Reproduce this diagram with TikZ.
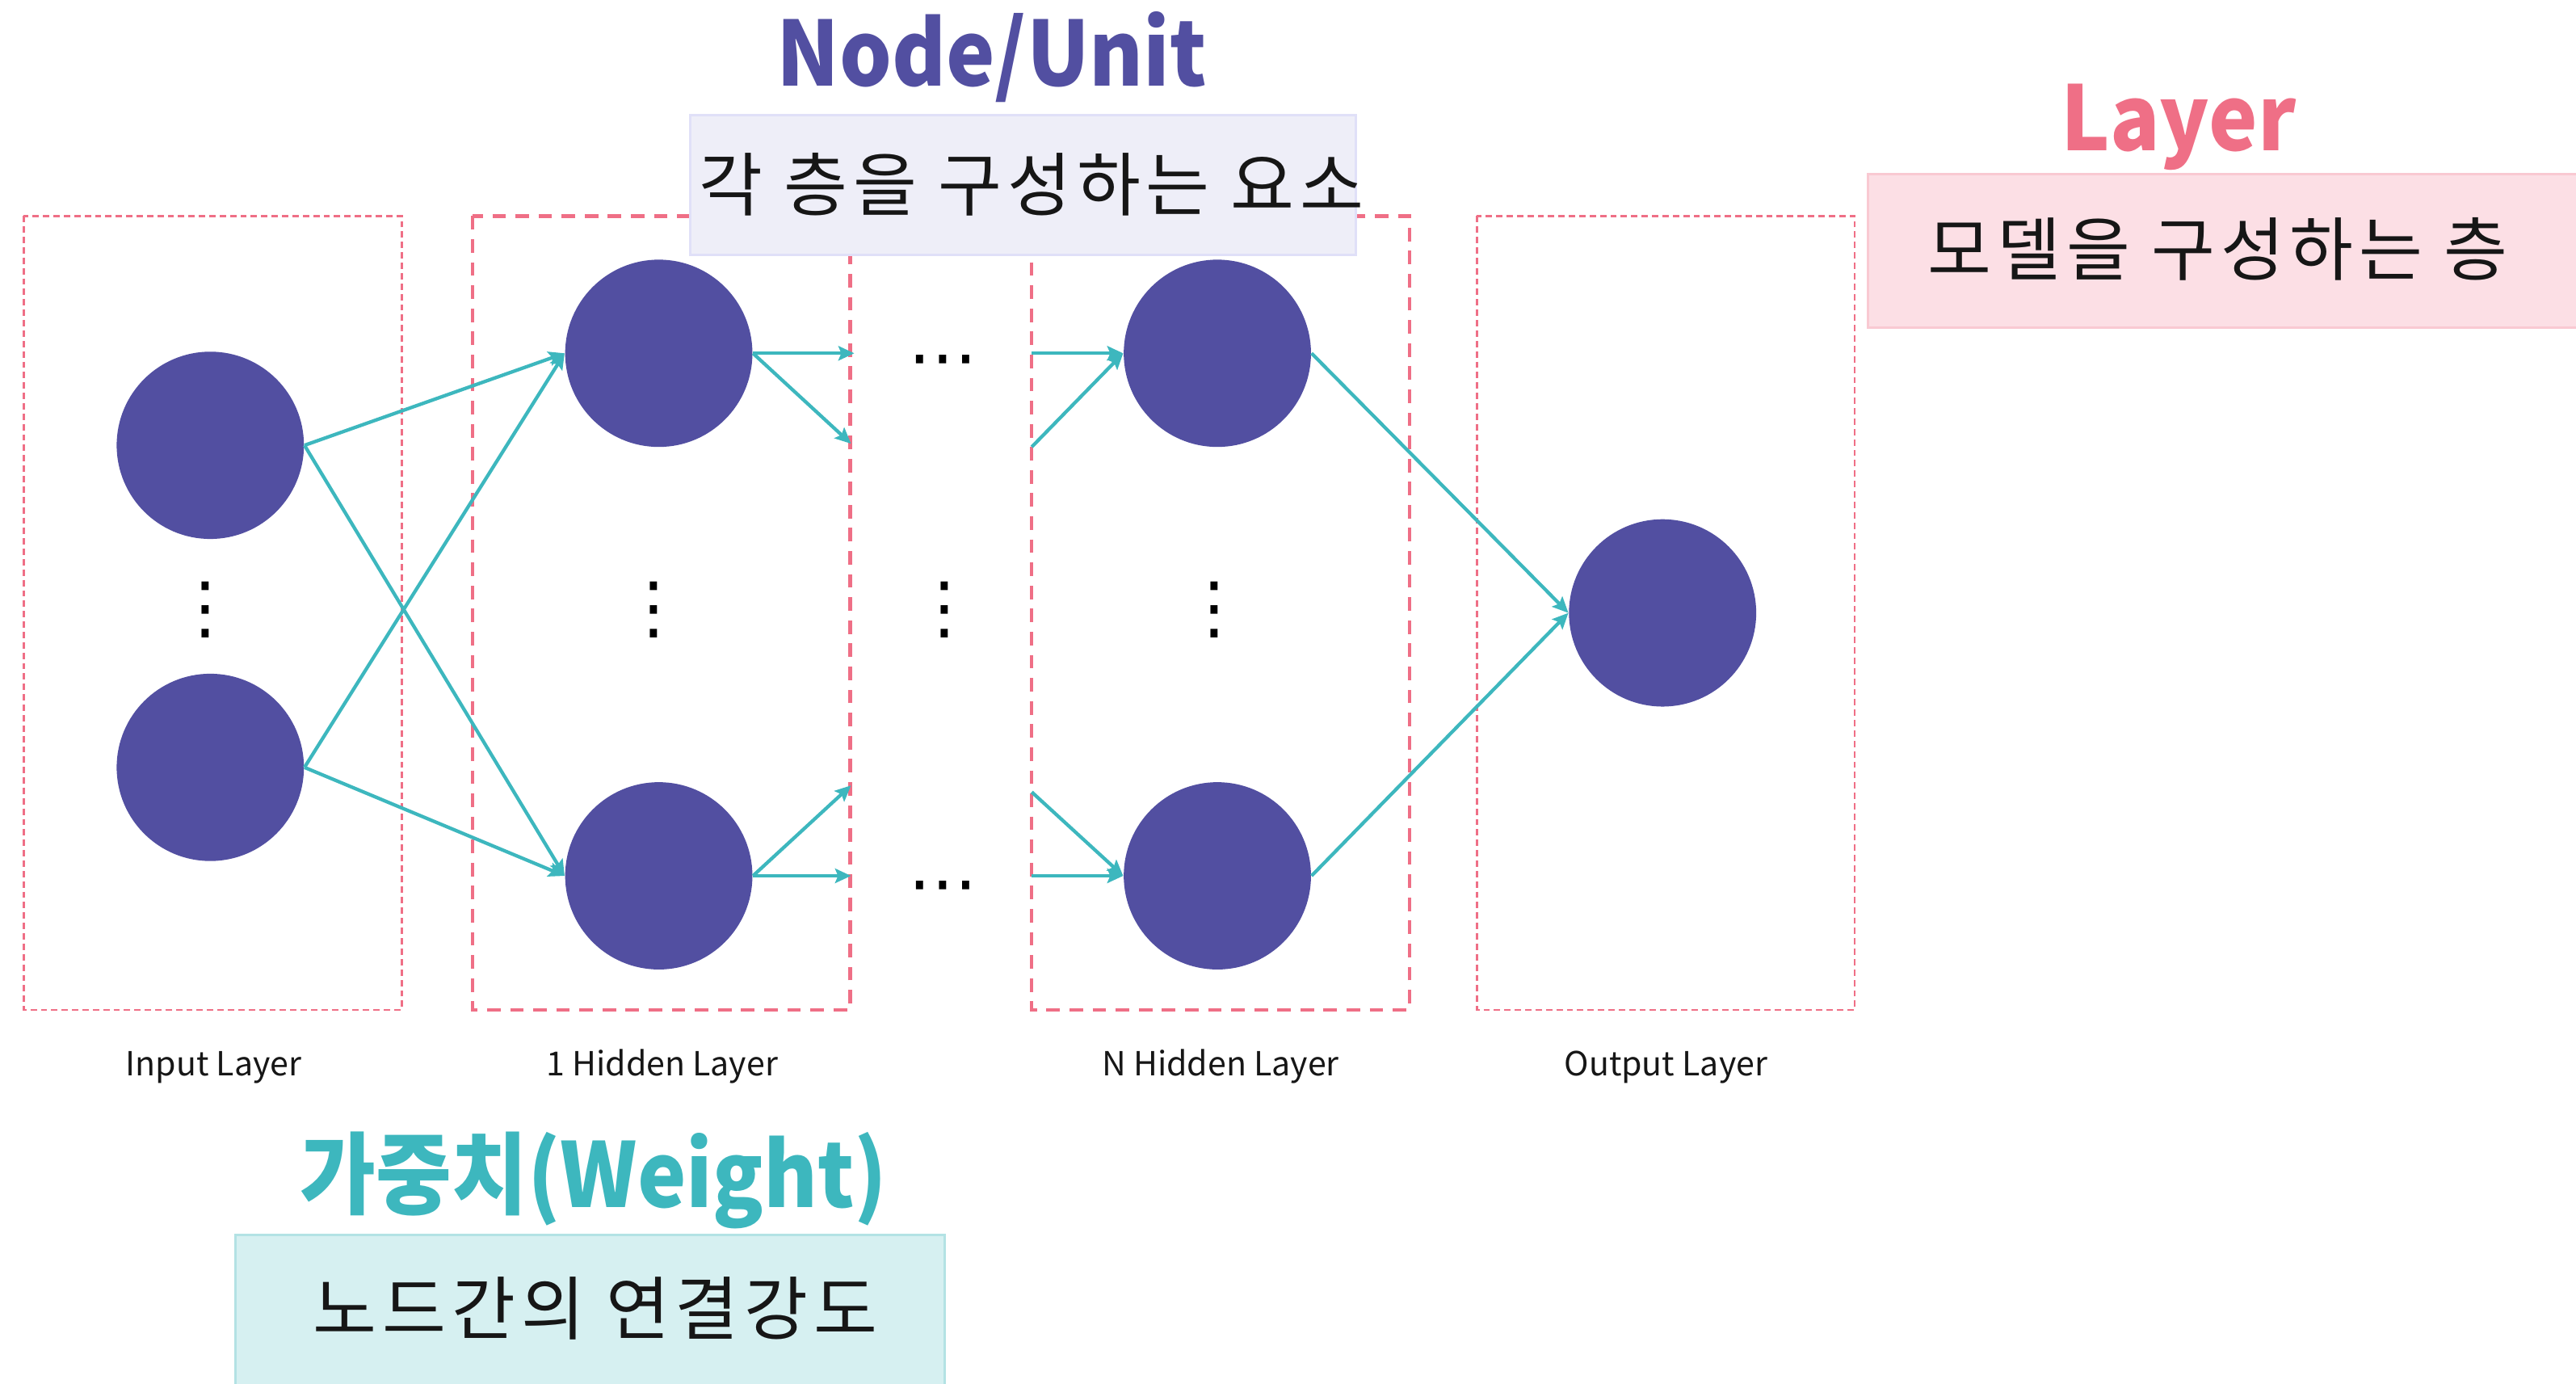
\documentclass[tikz,border=0pt]{standalone}
\usepackage{fontspec}
\setmainfont{Noto Sans CJK KR}
\newfontfamily\dotsfont{DejaVu Sans}
\usetikzlibrary{arrows.meta, positioning}

\definecolor{unitpurple}{HTML}{524FA1}
\definecolor{weightteal}{HTML}{3DB7BE}
\definecolor{layerpink}{HTML}{EF6F86}
\definecolor{unitfill}{HTML}{EEEEF8}
\definecolor{unitline}{HTML}{E0E0F8}
\definecolor{layerfill}{HTML}{FCDFE5}
\definecolor{layerline}{HTML}{F9C9D2}
\definecolor{weightfill}{HTML}{D6F0F1}
\definecolor{weightline}{HTML}{B3E2E4}
\definecolor{textblack}{HTML}{161616}

\begin{document}
\begin{tikzpicture}[x=0.02cm, y=-0.02cm,
  unitnode/.style={circle, fill=unitpurple, minimum size=2.28cm, inner sep=0pt},
  weightarrow/.style={draw=weightteal, line width=1.2pt, -{Stealth[length=5.5pt,width=5pt,inset=1pt]}},
  thinlayer/.style={draw=layerpink, line width=0.7pt, dash pattern=on 2.2pt off 1.4pt},
  thicklayer/.style={draw=layerpink, line width=1.2pt, dash pattern=on 4.7pt off 3.3pt},
  layerlabel/.style={anchor=base, font=\fontsize{11.5}{12}\selectfont, text=textblack},
  bigtitle/.style={anchor=base, font=\fontsize{31}{32}\selectfont\bfseries\addfontfeatures{FakeStretch=0.92}},
  desc/.style={anchor=base, font=\fontsize{24}{26}\selectfont\addfontfeatures{LetterSpace=8}, text=textblack},
  dotsnode/.style={inner sep=0pt, font=\fontsize{24}{24}\selectfont\dotsfont}
]
\useasboundingbox (0,0) rectangle (1568,842);

% Layer boxes
\draw[thinlayer] (14.5,131.5) rectangle (244.5,614.5);   % Input
\draw[thicklayer] (287.5,131.5) rectangle (517.5,614.5); % 1 Hidden
\draw[thicklayer] (628,131.5) rectangle (858,614.5);     % N Hidden
\draw[thinlayer] (899,131.5) rectangle (1129,614.5);     % Output

% Units
\node[unitnode] (in1) at (128,271) {};
\node[unitnode] (in2) at (128,467) {};
\node[unitnode] (h1a) at (401,215) {};
\node[unitnode] (h1b) at (401,533) {};
\node[unitnode] (hna) at (741,215) {};
\node[unitnode] (hnb) at (741,533) {};
\node[unitnode] (out) at (1012,373) {};

% Dots
\node[dotsnode] (vin) at (125,371) {⋮};
\node[dotsnode] (vh1) at (398,371) {⋮};
\node[dotsnode] (vmid) at (575,371) {⋮};
\node[dotsnode] (vhn) at (739,371) {⋮};
\node[dotsnode] (hmida) at (574,224) {⋯};
\node[dotsnode] (hmidb) at (574,544) {⋯};

% Free ends of the weights
\coordinate (h1aout1) at (520,215);
\coordinate (h1aout2) at (518,270);
\coordinate (h1bout1) at (518,478);
\coordinate (h1bout2) at (518,533);
\coordinate (hnain1) at (628,215);
\coordinate (hnain2) at (628,272);
\coordinate (hnbin1) at (628,482);
\coordinate (hnbin2) at (628,533);

% Weights
\draw[weightarrow] (in1.east) -- (h1a.west);
\draw[weightarrow] (in1.east) -- (h1b.west);
\draw[weightarrow] (in2.east) -- (h1a.west);
\draw[weightarrow] (in2.east) -- (h1b.west);
\draw[weightarrow] (h1a.east) -- (h1aout1);
\draw[weightarrow] (h1a.east) -- (h1aout2);
\draw[weightarrow] (h1b.east) -- (h1bout1);
\draw[weightarrow] (h1b.east) -- (h1bout2);
\draw[weightarrow] (hnain1) -- (hna.west);
\draw[weightarrow] (hnain2) -- (hna.west);
\draw[weightarrow] (hnbin1) -- (hnb.west);
\draw[weightarrow] (hnbin2) -- (hnb.west);
\draw[weightarrow] (hna.east) -- (out.west);
\draw[weightarrow] (hnb.east) -- (out.west);

% Layer names
\node[layerlabel] (inlabel) at (130,654.7) {Input Layer};
\node[layerlabel] (h1label) at (403,654.7) {1 Hidden Layer};
\node[layerlabel] (hnlabel) at (743,654.7) {N Hidden Layer};
\node[layerlabel] (outlabel) at (1014,654.7) {Output Layer};

% Node/Unit
\node[bigtitle, text=unitpurple] (unittitle) at (603.6,52.6) {Node/Unit};
\draw[draw=unitline, fill=unitfill, line width=0.8pt] (420,70) rectangle (825.5,155);
\node[desc] (unitdesc) at (628,128) {각 층을 구성하는 요소};

% Layer
\node[bigtitle, text=layerpink] (layertitle) at (1326,91.8) {Layer};
\draw[draw=layerline, fill=layerfill, line width=0.8pt] (1137,106) rectangle (1580,199.5);
\node[desc] (layerdesc) at (1350,167.5) {모델을 구성하는 층};

% Weight
\node[bigtitle, text=weightteal] (weighttitle) at (361.5,735) {가중치(Weight)};
\draw[draw=weightline, fill=weightfill, line width=0.8pt] (143.5,751.6) rectangle (575,860);
\node[desc] (weightdesc) at (362.4,812) {노드간의 연결강도};

\end{tikzpicture}
\end{document}
